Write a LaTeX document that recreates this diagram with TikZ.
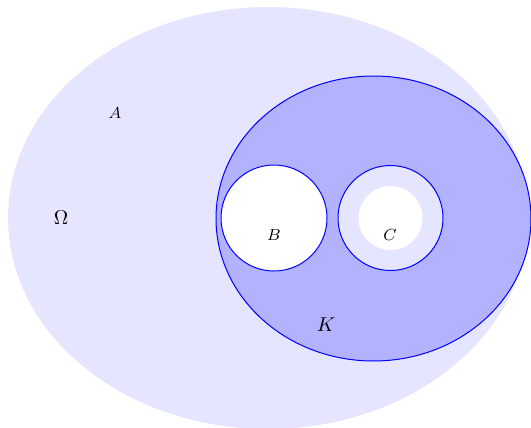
\documentclass[tikz,border=0pt]{standalone}
\begin{document}
\begin{tikzpicture}[x=0.5pt,y=-0.5pt,
  region/.style={draw=blue,line width=0.5pt},
  lbl/.style={inner sep=0pt,font=\footnotesize}]
\useasboundingbox (0,0) rectangle (531,428);
\begin{scope}
\clip (0,0) rectangle (531,428);
\fill[blue!10] (268,218) ellipse [x radius=130pt, y radius=105.5pt];
\filldraw[fill=blue!30,region] (373.5,218.5) ellipse [x radius=78.75pt, y radius=71.25pt];
\filldraw[fill=white,region] (274,218) circle [radius=26.5pt];
\filldraw[fill=blue!10,region] (390.5,218) circle [radius=26.25pt];
\fill[white] (390.5,218) circle [radius=16pt];
\end{scope}
\node[lbl] (A) at (115,113) {$A$};
\node[inner sep=0pt] (Omega) at (61,218) {$\Omega$};
\node[lbl] (B) at (274,235) {$B$};
\node[lbl] (C) at (390,235) {$C$};
\node[inner sep=0pt] (K) at (326,325) {$K$};
\end{tikzpicture}
\end{document}
